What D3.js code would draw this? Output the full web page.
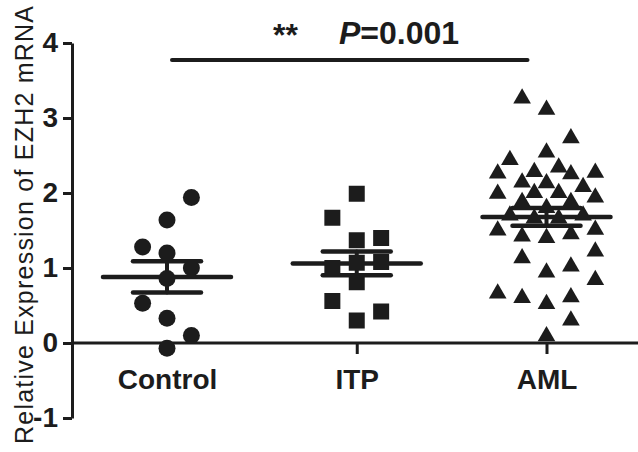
<!DOCTYPE html>
<html>
<head>
<meta charset="utf-8">
<script src="https://cdn.jsdelivr.net/npm/d3@7"></script>
<style>
  html, body { margin: 0; padding: 0; background: #fff; }
  svg { display: block; font-family: "Liberation Sans", Arial, Helvetica, sans-serif; }
</style>
</head>
<body>
<svg id="chart" width="638" height="452"></svg>
<script>
// ---- data ----
const categories = ["Control", "ITP", "AML"];
const yTicks = [-1, 0, 1, 2, 3, 4];

const controlValues = [1.94, 1.64, 1.28, 1.20, 1.00, 0.86, 0.53, 0.33, 0.10, -0.07];
const controlSlots  = [2, 0, -2, 0, 2, 0, -2, 0, 2, 0];

const itpValues = [1.99, 1.67, 1.37, 1.40, 1.08, 1.00, 1.07, 0.81, 0.56, 0.30, 0.42];
const itpSlots  = [0, -2, 0, 2, 2, -2, 0, 0, -2, 0, 2];

const amlValues = [3.26, 3.11, 2.73, 2.54, 2.44, 2.26, 2.28, 2.34, 2.25, 2.27,
                   2.14, 2.13, 2.08, 1.99, 2.00, 2.00, 1.94, 1.88, 1.88, 1.80,
                   1.70, 1.70, 1.66, 1.66, 1.50, 1.42, 1.40, 1.45, 1.51, 1.22,
                   1.13, 0.94, 1.02, 0.84, 0.66, 0.60, 0.52, 0.61, 0.30, 0.09];
const amlSlots  = [-2, 0, 2, 0, -3, -4, -1, 1, 2, 4,
                   -2, 0, 3, -4, -1, 1, 4, -2, 2, 0,
                   -3, 3, -1, 1, -4, -2, 0, 2, 4, 4,
                   -2, 0, 2, 4, -4, -2, 0, 2, 2, 0];

const pLabelStars = "**";
const pLabelText = "=0.001";
const yTitle = "Relative Expression of EZH2 mRNA";

// ---- layout ----
const svg = d3.select("#chart");
const ink = "#1c1c1c";
const y = d3.scaleLinear().domain([-1, 4]).range([418, 43]);
const x = d3.scalePoint().domain(categories).range([167, 546.5]);
const slot = d3.scaleLinear().domain([0, 1]).range([0, 12.2]);

const groups = [
  { cat: "Control", values: controlValues, slots: controlSlots, shape: "circle" },
  { cat: "ITP", values: itpValues, slots: itpSlots, shape: "square" },
  { cat: "AML", values: amlValues, slots: amlSlots, shape: "triangle" }
];

// y axis
const yAxis = svg.append("g")
  .attr("transform", "translate(72,0)")
  .call(d3.axisLeft(y).tickValues(yTicks).tickFormat(d => String(d)).tickSize(9).tickSizeOuter(0).tickPadding(5));
yAxis.select(".domain").attr("stroke", ink).attr("stroke-width", 3);
yAxis.selectAll(".tick line").attr("stroke", ink).attr("stroke-width", 3);
yAxis.selectAll(".tick text")
  .attr("fill", ink).attr("font-size", 28).attr("font-weight", "bold")
  .attr("font-family", "Liberation Sans, Arial, sans-serif");

// x axis at y=0
const xAxis = svg.append("g")
  .attr("transform", `translate(0,${y(0)})`)
  .call(d3.axisBottom(x).tickSize(11).tickSizeOuter(0).tickPadding(15));
xAxis.select(".domain").remove();
xAxis.append("line")
  .attr("x1", 72).attr("x2", 638).attr("y1", 0).attr("y2", 0)
  .attr("stroke", ink).attr("stroke-width", 3);
xAxis.selectAll(".tick line").attr("stroke", ink).attr("stroke-width", 3);
xAxis.selectAll(".tick text")
  .attr("fill", ink).attr("font-size", 28).attr("font-weight", "bold")
  .attr("font-family", "Liberation Sans, Arial, sans-serif");

// points
const triangle = d3.symbol().type(d3.symbolTriangle).size(135);
groups.forEach(g => {
  const cx = x(g.cat);
  const pts = g.values.map((v, i) => ({ v, s: g.slots[i] }));
  const layer = svg.append("g");
  if (g.shape === "circle") {
    layer.selectAll("circle").data(pts).join("circle")
      .attr("cx", d => cx + slot(d.s)).attr("cy", d => y(d.v))
      .attr("r", 8.5).attr("fill", ink);
  } else if (g.shape === "square") {
    layer.selectAll("rect").data(pts).join("rect")
      .attr("x", d => cx + slot(d.s) - 8).attr("y", d => y(d.v) - 8)
      .attr("width", 16).attr("height", 16).attr("fill", ink);
  } else {
    layer.selectAll("path").data(pts).join("path")
      .attr("d", triangle)
      .attr("transform", d => `translate(${cx + slot(d.s)},${y(d.v)})`)
      .attr("fill", ink);
  }
});

// mean ± SEM
groups.forEach(g => {
  const cx = x(g.cat);
  const m = d3.mean(g.values);
  const sem = d3.deviation(g.values) / Math.sqrt(g.values.length);
  const lay = svg.append("g").attr("stroke", ink).attr("stroke-linecap", "round");
  lay.append("line").attr("x1", cx).attr("x2", cx)
    .attr("y1", y(m + sem)).attr("y2", y(m - sem)).attr("stroke-width", 4);
  lay.append("line").attr("x1", cx - 64).attr("x2", cx + 64)
    .attr("y1", y(m)).attr("y2", y(m)).attr("stroke-width", 4.5);
  [m + sem, m - sem].forEach(v => {
    lay.append("line").attr("x1", cx - 34).attr("x2", cx + 34)
      .attr("y1", y(v)).attr("y2", y(v)).attr("stroke-width", 4.5);
  });
});

// significance bar
svg.append("line")
  .attr("x1", x("Control") + 5).attr("x2", x("AML") - 19)
  .attr("y1", 60).attr("y2", 60)
  .attr("stroke", ink).attr("stroke-width", 4).attr("stroke-linecap", "round");
svg.append("text")
  .attr("x", 273).attr("y", 46)
  .attr("font-size", 32).attr("font-weight", "bold").attr("fill", ink)
  .text(pLabelStars);
const pt = svg.append("text")
  .attr("x", 339).attr("y", 44)
  .attr("font-size", 32).attr("font-weight", "bold").attr("fill", ink);
pt.append("tspan").attr("font-style", "italic").text("P");
pt.append("tspan").text(pLabelText);

// y title
svg.append("text")
  .attr("transform", "translate(33,225) rotate(-90)")
  .attr("text-anchor", "middle")
  .attr("font-size", 25).attr("fill", ink)
  .attr("textLength", 438).attr("lengthAdjust", "spacing")
  .text(yTitle);
</script>
</body>
</html>
